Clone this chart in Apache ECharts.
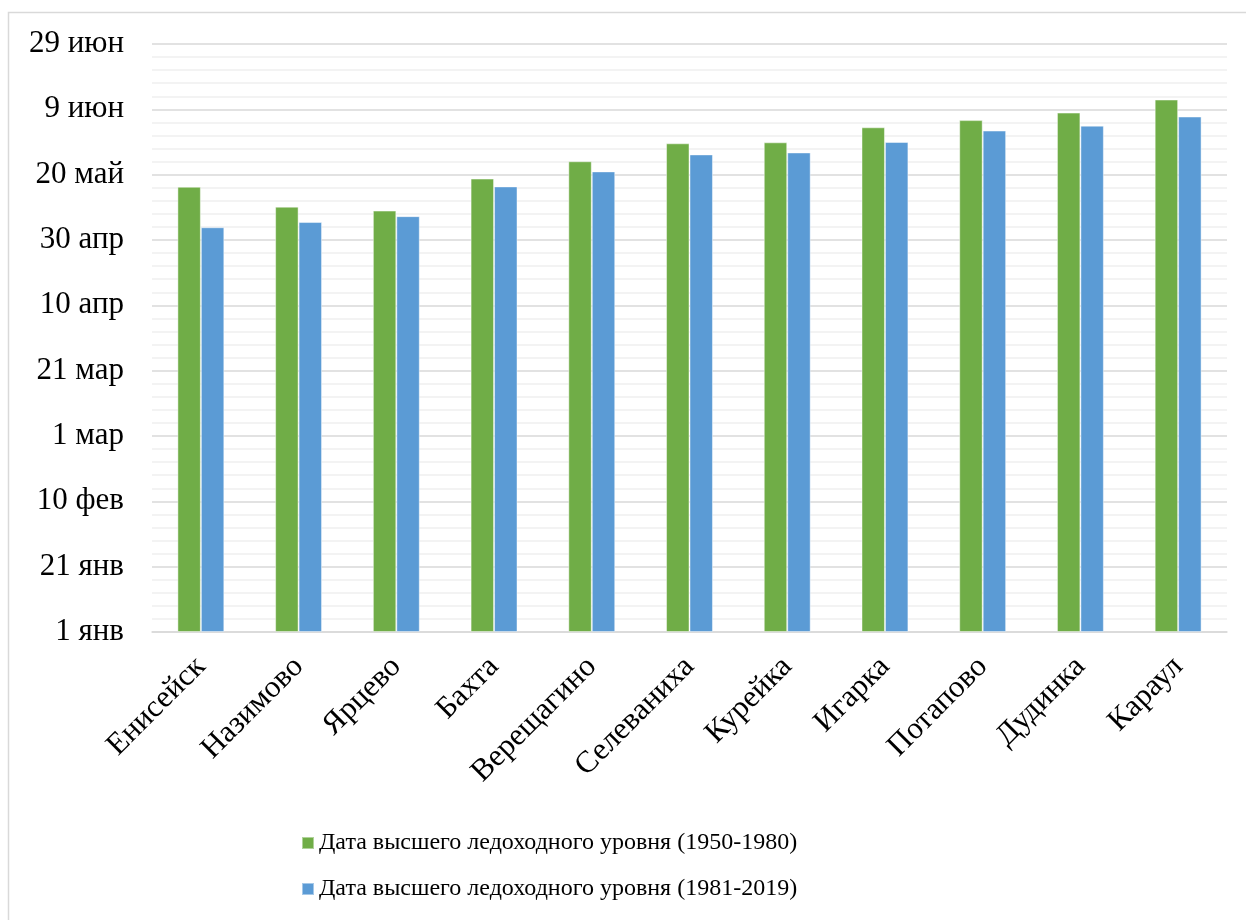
<!DOCTYPE html>
<html>
<head>
<meta charset="utf-8">
<script src="https://cdn.jsdelivr.net/npm/echarts@6/dist/echarts.min.js"></script>
<style>
  html, body { margin: 0; padding: 0; background: #fff; }
  #chart { width: 1246px; height: 920px; }
</style>
</head>
<body>
<div id="chart"></div>
<script>
// Gauging stations along the Yenisei, upstream to downstream
const stations = ['Енисейск', 'Назимово', 'Ярцево', 'Бахта', 'Верещагино', 'Селеваниха',
  'Курейка', 'Игарка', 'Потапово', 'Дудинка', 'Караул'];

// Date of the highest ice-run level, days after 1 January
const peak1950_1980 = [136.3, 130.2, 129.0, 138.8, 144.1, 149.6, 149.9, 154.5, 156.7, 159.0, 163.0];
const peak1981_2019 = [123.9, 125.5, 127.3, 136.4, 141.0, 146.2, 146.8, 150.0, 153.5, 155.0, 157.8];

// Date labels for every 20-day step of the value axis
const dateTicks = ['1 янв', '21 янв', '10 фев', '1 мар', '21 мар', '10 апр',
  '30 апр', '20 май', '9 июн', '29 июн'];

const seriesNames = ['Дата высшего ледоходного уровня (1950-1980)',
  'Дата высшего ледоходного уровня (1981-2019)'];

const FONT = '"Liberation Serif", "Times New Roman", serif';

const chart = echarts.init(document.getElementById('chart'), null, { renderer: 'canvas' });

chart.setOption({
  backgroundColor: '#ffffff',
  animation: false,
  graphic: [{
    type: 'polyline',
    shape: { points: [[8.5, 930], [8.5, 12.5], [1260, 12.5]] },
    style: { stroke: '#d9d9d9', lineWidth: 1.5, fill: null },
    silent: true
  }],
  grid: { left: 152, right: 19, top: 44, bottom: 288 },
  legend: {
    orient: 'vertical',
    left: 301,
    top: 831,
    padding: 0,
    itemWidth: 12,
    itemHeight: 12,
    itemGap: 22,
    icon: 'rect',
    textStyle: { fontFamily: FONT, fontSize: 24, color: '#000' },
    data: seriesNames
  },
  xAxis: {
    type: 'category',
    data: stations,
    axisLine: { show: true, lineStyle: { color: '#d9d9d9', width: 1.5 } },
    axisTick: { show: false },
    axisLabel: {
      rotate: 45,
      margin: 30,
      interval: 0,
      fontFamily: FONT,
      fontSize: 31,
      color: '#000'
    }
  },
  yAxis: {
    type: 'value',
    min: 0,
    max: 180,
    interval: 20,
    axisLine: { show: false },
    axisTick: { show: false },
    axisLabel: {
      margin: 28,
      fontFamily: FONT,
      fontSize: 31,
      color: '#000',
      formatter: v => dateTicks[Math.round(v / 20)]
    },
    splitLine: { show: true, lineStyle: { color: '#d9d9d9', width: 1.5 } },
    minorTick: { show: false, splitNumber: 5 },
    minorSplitLine: { show: true, lineStyle: { color: '#f0f0f0', width: 1.5 } }
  },
  series: [
    {
      name: seriesNames[0],
      type: 'bar',
      data: peak1950_1980,
      barGap: '0%',
      barCategoryGap: '52%',
      itemStyle: { color: '#70ad47', borderColor: 'rgba(255,255,255,0.45)', borderWidth: 1 }
    },
    {
      name: seriesNames[1],
      type: 'bar',
      data: peak1981_2019,
      itemStyle: { color: '#5b9bd5', borderColor: 'rgba(255,255,255,0.45)', borderWidth: 1 }
    }
  ]
});
</script>
</body>
</html>
